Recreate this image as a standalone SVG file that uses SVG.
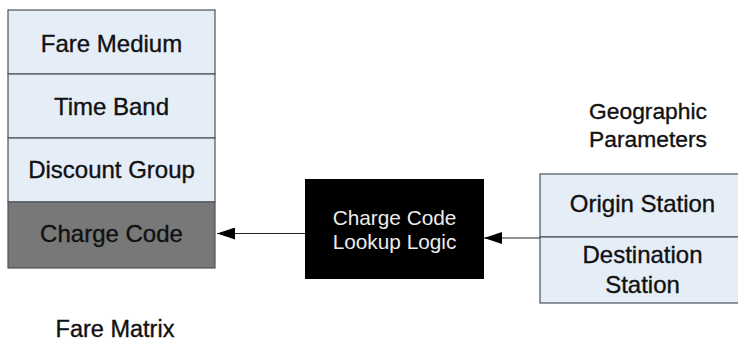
<svg xmlns="http://www.w3.org/2000/svg" width="738" height="342" viewBox="0 0 738 342">
  <style>
    .lbl { font-family: "Liberation Sans", Arial, sans-serif; fill: #111; stroke: #111; stroke-width: 0.35; text-anchor: middle; }
    .cell { fill: #e5edf7; stroke: #4e535e; stroke-width: 1.2; }
    .dark { fill: #787878; stroke: #4e535e; stroke-width: 1.2; }
    .logic { fill: #000; }
    .logic-text { font-family: "Liberation Sans", Arial, sans-serif; fill: #ececec; text-anchor: middle; font-size: 20.8px; }
    .conn { stroke: #222; stroke-width: 1.2; fill: none; }
  </style>
  <defs>
    <marker id="arrow" markerWidth="18" markerHeight="12" refX="18" refY="6" orient="auto" markerUnits="userSpaceOnUse">
      <path d="M0,0 L18,6 L0,12 Z" fill="#000"/>
    </marker>
  </defs>
  <rect width="738" height="342" fill="#fff"/>

  <!-- Fare matrix stack -->
  <g id="fare-medium">
    <rect class="cell" x="8" y="10" width="207" height="64"/>
    <text class="lbl" x="111.5" y="52" font-size="24">Fare Medium</text>
  </g>
  <g id="time-band">
    <rect class="cell" x="8" y="74" width="207" height="64"/>
    <text class="lbl" x="111.5" y="115" font-size="24">Time Band</text>
  </g>
  <g id="discount-group">
    <rect class="cell" x="8" y="138" width="207" height="64"/>
    <text class="lbl" x="111.5" y="178" font-size="24">Discount Group</text>
  </g>
  <g id="charge-code">
    <rect class="dark" x="8" y="202" width="207" height="66"/>
    <text class="lbl" x="111.5" y="242" font-size="24">Charge Code</text>
  </g>
  <g id="fare-matrix-label">
    <text class="lbl" x="115" y="337" font-size="23.5">Fare Matrix</text>
  </g>

  <!-- Lookup logic -->
  <g id="lookup-logic">
    <rect class="logic" x="305" y="179" width="179" height="100"/>
    <text class="logic-text" x="394.5" y="225">Charge Code</text>
    <text class="logic-text" x="394.5" y="249">Lookup Logic</text>
  </g>

  <!-- Geographic parameters stack -->
  <g id="geographic-label">
    <text class="lbl" x="648" y="119" font-size="22.8">Geographic</text>
    <text class="lbl" x="648" y="147" font-size="22.8">Parameters</text>
  </g>
  <g id="origin-station">
    <rect class="cell" x="540" y="174" width="210" height="63"/>
    <text class="lbl" x="642.5" y="212" font-size="24">Origin Station</text>
  </g>
  <g id="destination-station">
    <rect class="cell" x="540" y="237" width="210" height="66"/>
    <text class="lbl" x="642.5" y="263" font-size="24">Destination</text>
    <text class="lbl" x="642.5" y="293" font-size="24">Station</text>
  </g>

  <!-- Connectors -->
  <g id="connectors">
    <line class="conn" x1="540" y1="238" x2="484" y2="238" marker-end="url(#arrow)"/>
    <line class="conn" x1="305" y1="233.5" x2="217" y2="233.5" marker-end="url(#arrow)"/>
  </g>
</svg>
